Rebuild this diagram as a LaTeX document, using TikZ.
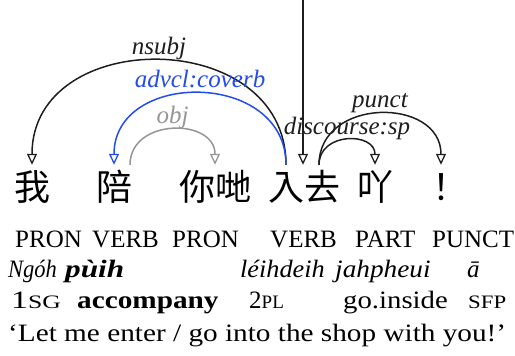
\documentclass[tikz,border=0pt]{standalone}
\usepackage{fontspec}
\usepackage{graphicx}
\setmainfont{Liberation Serif}
\newfontfamily\cjk{Noto Sans CJK TC}
\usetikzlibrary{arrows.meta,calc}
\definecolor{depblue}{RGB}{35,75,240}
\definecolor{depgray}{RGB}{150,150,150}
\definecolor{depblack}{RGB}{30,30,30}
\tikzset{
  word/.style={font=\cjk\fontsize{36}{36}\selectfont, inner sep=0pt, text height=35pt, text depth=0pt, anchor=base},
  dep/.style={line width=1.5pt, depblack, -{Triangle[open,width=10pt,length=11pt,line width=1.3pt]}},
  lbl/.style={font=\itshape\fontsize{25}{25}\selectfont, anchor=base, inner sep=0pt, pos=0.5, yshift=6pt},
  rowtext/.style={font=\fontsize{25}{25}\selectfont, anchor=base west, inner sep=0pt},
  romtext/.style={font=\itshape\fontsize{25}{25}\selectfont, anchor=base west, inner sep=0pt},
}
\newcommand{\smc}[1]{{\fontsize{19}{19}\selectfont #1}}
\newcommand{\hs}[2]{\scalebox{#1}[1]{#2}}
\begin{document}
\begin{tikzpicture}[x=1pt,y=-1pt]
\useasboundingbox (0,0) rectangle (515,356);
% words
\node[word] (w1) at (32,200) {我};
\node[word] (w2) at (114,200) {陪};
\node[word] (w3) at (215,200) {你哋};
\node[word] (w4) at (304,200) {入去};
\node[word] (w5) at (375,200) {吖};
\node[word] (w6) at (441,200) {！};
% root
\coordinate (top) at (303,0);
\draw[dep] (top) -- (top |- w4.north);
% arcs
\draw[dep] ($(w4.north)+(-18,0)$) .. controls +(0,-139) and +(0,-139) .. (w1.north)
  node[lbl] (l1) {nsubj};
\draw[dep, depblue] ($(w4.north)+(-18,0)$) .. controls +(0,-95) and +(0,-95) .. (w2.north)
  node[lbl] (l2) {advcl:coverb};
\draw[dep, depgray] ($(w2.north)+(16,0)$) .. controls +(0,-47) and +(0,-47) .. (w3.north)
  node[lbl] (l3) {obj};
\draw[dep] ($(w4.north)+(15,0)$) .. controls +(0,-33) and +(0,-33) .. (w5.north)
  node[lbl] (l4) {discourse:sp};
\draw[dep] ($(w4.north)+(15,0)$) .. controls +(0,-68) and +(0,-68) .. (w6.north)
  node[lbl] (l5) {punct};
% POS row
\node[rowtext] (p1) at (15,247) {PRON};
\node[rowtext] (p2) at (92,247) {VERB};
\node[rowtext] (p3) at (172,247) {PRON};
\node[rowtext] (p4) at (270,247) {VERB};
\node[rowtext] (p5) at (355,247) {PART};
\node[rowtext] (p6) at (432,247) {PUNCT};
% romanisation
\node[romtext] (r1) at (8,277) {\hs{0.9}{Ngóh}};
\node[romtext, font=\bfseries\itshape\fontsize{25}{25}\selectfont] (r2) at (65,277) {\hs{1.25}{pùih}};
\node[romtext] (r3) at (240,277) {\hs{1.05}{léihdeih}};
\node[romtext] (r4) at (335,277) {\hs{1.09}{jahpheui}};
\node[romtext] (r5) at (467,277) {ā};
% gloss
\node[rowtext] (g1) at (11,308) {\hs{1.35}{1\smc{SG}}};
\node[rowtext, font=\bfseries\fontsize{25}{25}\selectfont] (g2) at (77,308) {\hs{1.17}{accompany}};
\node[rowtext] (g3) at (249,308) {2\smc{PL}};
\node[rowtext] (g4) at (343,308) {\hs{1.15}{go.inside}};
\node[rowtext] (g5) at (468,308) {\hs{1.2}{\smc{SFP}}};
% translation
\node[rowtext] (t1) at (8,341) {\hs{1.17}{‘Let me enter / go into the shop with you!’}};
\end{tikzpicture}
\end{document}
